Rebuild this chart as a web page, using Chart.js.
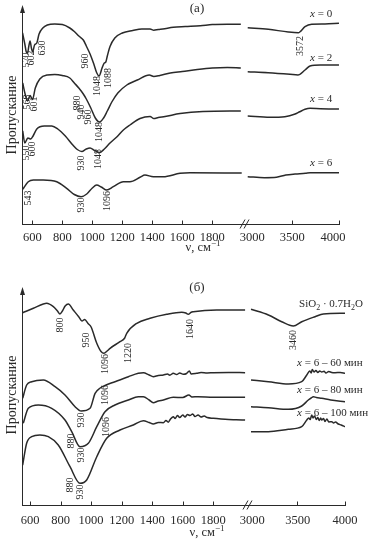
<!DOCTYPE html>
<html><head><meta charset="utf-8">
<script src="https://cdn.jsdelivr.net/npm/chart.js@4/dist/chart.umd.min.js"></script>
<style>
html,body{margin:0;padding:0;background:#fff;}
#wrap{position:relative;width:378px;height:544px;overflow:hidden;}
canvas{position:absolute;left:0;}
#ca{top:0;width:378px;height:262px;}
#cb{top:262px;width:378px;height:282px;}
</style></head><body>
<div id="wrap"><canvas id="ca" width="378" height="262"></canvas><canvas id="cb" width="378" height="282"></canvas></div>
<script>
// ---------- tick labels (wavenumber, cm^-1) ----------
const TICK_VALUES = [600, 800, 1000, 1200, 1400, 1600, 1800, 3000, 3500, 4000];
const TICK_LABELS = ['600', '800', '1000', '1200', '1400', '1600', '1800', '3000', '3500', '4000'];

// ---------- panel (а): [wavenumber, transmittance a.u.] ----------
const A_SERIES = ['x = 0', 'x = 2', 'x = 4', 'x = 6'];
const A_X0_LOW = [[535,191],[550,180],[560,172],[568,171],[577,178],[585,183],[594,176],[602,172],[615,179],[630,181],[645,190],[670,196],[700,199],[750,200],[800,199.5],[850,196],[880,192.5],[910,188],[940,184],[960,178],[985,170],[1010,160],[1030,151],[1045,148],[1065,156],[1080,161],[1090,162],[1100,168],[1118,177.5],[1150,186],[1200,191],[1270,193.5],[1330,195],[1385,195],[1410,193.8],[1440,194.5],[1470,195],[1540,196.8],[1620,197.5],[1720,198.3],[1800,199.5],[1900,199.8],[1990,199.8]];
const A_X0_HIGH = [[3022,196.3],[3243,194.7],[3457,192],[3564,191.3],[3580,192],[3636,197.3],[3708,199.7],[3850,200],[4000,200.7]];
const A_X2_LOW = [[536,141],[552,130],[568,123],[585,128.5],[601,124.5],[620,136],[650,145],[700,149],[750,149.5],[800,148.5],[850,146],[880,141],[910,136],[940,130],[960,125],[990,116],[1020,106],[1048,102],[1075,106],[1100,113],[1130,122],[1170,131],[1230,139],[1300,144],[1380,149],[1410,147.5],[1450,148.5],[1520,151],[1600,152.5],[1700,154.5],[1800,156],[1900,156.5],[1990,156]];
const A_X2_HIGH = [[3022,152.3],[3240,151.3],[3475,149.7],[3560,149],[3636,154],[3690,158],[3800,159],[4000,159]];
const A_X4_LOW = [[536,93],[550,81],[570,86],[590,85],[605,88],[630,95],[680,98],[730,98],[770,95],[820,88],[870,79],[900,74.5],[930,72.5],[960,75],[985,76],[1015,73.5],[1048,71.5],[1080,75],[1118,81],[1163,87],[1207,94],[1251,99],[1318,105.5],[1385,107.5],[1410,105.5],[1440,106.5],[1485,107.5],[1585,110.5],[1738,112.5],[1990,113]];
const A_X4_HIGH = [[3022,108],[3260,106.7],[3420,107.3],[3530,110],[3580,112.3],[3636,114.7],[3690,115.7],[3800,115.3],[4000,115]];
const A_X6_LOW = [[536,34.7],[573,42.3],[607,44],[673,44],[763,42.3],[829,35.7],[880,29.5],[925,27.3],[963,30],[1000,36],[1029,39],[1060,37],[1096,34],[1140,37.3],[1207,42.3],[1251,42.3],[1318,46.7],[1351,49],[1407,47.3],[1473,47.3],[1585,50.7],[1651,51.3],[1996,51]];
const A_X6_HIGH = [[3022,47.3],[3200,46.3],[3330,46.7],[3430,49],[3530,50],[3640,50.7],[3690,51.3],[4000,51.3]];
const A_PEAKS = [['570',561,164],['602',591,166],['630',667,176],['960',956,163],['1048',1031,138],['1088',1109,146],['3572',3583,178],
  ['568',568,122],['601',611,120],['880',903,121],['940',929,112],['960',973,107],['1048',1045,92],
  ['550',558,71],['600',598,75],['930',929,61],['1048',1040,65],
  ['543',576,26],['930',925,19],['1096',1103,23]];

// ---------- panel (б) ----------
const B_SERIES = ['SiO2 · 0.7H2O', 'x = 6 – 60 мин', 'x = 6 – 80 мин', 'x = 6 – 100 мин'];
const B_SIO2_LOW = [[552,192.3],[622,196.7],[687,201],[709,201.7],[753,198.3],[780,194],[796,191],[812,194],[830,199],[851,201],[883,195],[920,188],[940,184],[958,185.5],[980,181.5],[1000,178],[1037,161.7],[1065,153.5],[1084,151.7],[1105,154],[1124,156.7],[1189,163.3],[1220,167],[1233,171.7],[1299,181.7],[1386,186.7],[1495,190.7],[1593,192.7],[1620,192],[1636,190.7],[1655,192.8],[1669,193.3],[1822,195],[2008,195]];
const B_SIO2_HIGH = [[3014,195.7],[3196,190],[3336,183.3],[3458,179],[3546,183.3],[3686,188.3],[3773,191],[4000,191.7]];
const B_60_LOW = [[552,106.7],[578,120],[611,123.3],[687,125],[764,118.3],[829,110],[895,98.3],[935,94],[993,96.7],[1026,111.7],[1060,117],[1091,119.5],[1156,123.3],[1244,128.3],[1309,131.7],[1342,132.3],[1380,130],[1407,128.3],[1440,129.5],[1473,130],[1500,131],[1515,129.8],[1538,131.7],[1560,130.5],[1580,132],[1604,130.7],[1625,131.5],[1643,134],[1655,131],[1691,131.7],[1720,132.5],[1760,132],[1800,132.3],[1900,132.5],[2008,132.3]];
const B_60_HIGH = [[3014,125],[3196,123.3],[3406,121],[3546,123.3],[3599,130],[3630,134],[3645,132],[3657,135.5],[3675,133],[3695,134.5],[3715,132.5],[3735,134],[3756,133],[3780,133.8],[3800,132],[3830,133.5],[3860,132.5],[3896,132.3],[3950,132.5],[4000,131.7]];
const B_80_LOW = [[556,81.7],[589,96.7],[654,100],[742,96.7],[829,85],[873,73.3],[927,58.3],[982,61.7],[1037,78.3],[1091,93.3],[1156,100],[1244,105],[1309,108.3],[1342,108.3],[1380,105],[1407,102.3],[1440,104],[1473,105],[1538,107.7],[1600,107.5],[1640,110],[1660,108],[1700,108.3],[1800,107.7],[2008,107.7]];
const B_80_HIGH = [[3014,98.3],[3196,97.3],[3406,95.7],[3546,99],[3615,105],[3645,107],[3668,108.3],[3700,107.5],[3756,106.7],[3850,105],[4000,103.3]];
const B_100_LOW = [[552,40],[578,61.7],[611,68.3],[665,70],[720,68.3],[785,60],[862,38.3],[927,21.7],[971,25],[1037,48.3],[1102,66.7],[1189,75],[1276,80],[1342,84.3],[1380,82.5],[1407,81],[1440,82.5],[1473,82.3],[1490,84.5],[1505,82.8],[1520,86],[1538,88.3],[1550,86.5],[1565,89.5],[1580,87.5],[1600,90],[1615,88],[1630,90.5],[1647,89.5],[1665,91],[1680,88.5],[1700,90],[1720,88],[1740,89],[1760,87.5],[1800,86.7],[1850,86],[1900,85.5],[1950,85.3],[2008,85]];
const B_100_HIGH = [[3014,73.3],[3196,73.3],[3406,75.7],[3546,78.3],[3599,85],[3620,87],[3635,85.5],[3651,90],[3665,87],[3680,89],[3700,85.5],[3715,87.5],[3730,84.5],[3745,87],[3756,85],[3775,86.5],[3790,83.5],[3810,86],[3830,83],[3861,83.3],[3880,82],[3900,83],[3930,81],[3960,80],[4000,78.3]];
const B_PEAKS = [['800',801,180],['950',967,165],['1096',1091,141],['1220',1244,152],['1640',1647,176],['3460',3458,165],
  ['1096',1094,110],['930',934,85],['1096',1098,78],['880',868,64],['930',934,50],['880',862,20],['930',931,13]];

// ---------- layout / style (not data) ----------
const INK = '#2a2a2a';
const SERIF = '"Liberation Serif", "Times New Roman", serif';
const PANEL_A = {
  umin: 531.3, umax: 2644.5, uR: 2333.3, r: 0.622, breakU: 2018, ymax: 219, pxPerU: 0.15,
  padding: {left: 22, right: 39, top: 5, bottom: 0}, tickPad: 6, axisH: 38,
  labelShift: {3000: 6.6, 4000: -6},
  title: {text: '(а)', x: 197, y: 8.5}, ylab: {x: 12, y: 115}, xtitle: {x: 203, y: 251},
  names: A_SERIES, namePos: [[3690,210.7],[3690,167.3],[3690,126.3],[3690,62.3]], peaks: A_PEAKS
};
const PANEL_B = {
  umin: 547.6, umax: 2662, uR: 2350, r: 0.624, breakU: 2027, ymax: 218, pxPerU: 0.15276,
  padding: {left: 22, right: 33, top: 25, bottom: 0}, tickPad: 8, axisH: 39,
  labelShift: {3000: 2.6, 3500: 0.4, 4000: 0},
  title: {text: '(б)', x: 197, y: 26}, ylab: {x: 12, y: 133}, xtitle: {x: 207, y: 274},
  names: B_SERIES, namePos: [[3518,201.7],[3497,143],[3497,116],[3497,93]], peaks: B_PEAKS
};

function toU(P, v) { return v < 2500 ? v : P.uR + (v - 3500) * P.r; }
function buildData(P, low, high) {
  const pts = low.map(([v, t]) => ({x: toU(P, v), y: t}));
  pts.push({x: P.breakU, y: null});
  high.forEach(([v, t]) => pts.push({x: toU(P, v), y: t}));
  return pts;
}
function richName(name) {
  if (name.startsWith('x')) return [{t: 'x', it: true}, {t: name.slice(1)}];
  const segs = [];
  for (let i = 0; i < name.length; i++) {
    const c = name[i];
    const sub = /\d/.test(c) && /[A-Za-z]/.test(name[i - 1] || '');
    const last = segs[segs.length - 1];
    if (last && !!last.sub === sub) last.t += c; else segs.push({t: c, sub});
  }
  return segs;
}
function drawRich(ctx, segs, x, y, size, align) {
  const font = s => `${s.it ? 'italic ' : ''}${(s.sub || s.sup) ? Math.round(size * 0.72) : size}px ${SERIF}`;
  let w = 0;
  segs.forEach(s => { ctx.font = font(s); s.w = ctx.measureText(s.t).width; w += s.w; });
  let cx = align === 'center' ? x - w / 2 : x;
  ctx.textAlign = 'left'; ctx.textBaseline = 'alphabetic';
  segs.forEach(s => {
    ctx.font = font(s);
    const dy = s.sub ? size * 0.25 : s.sup ? -size * 0.42 : 0;
    ctx.fillText(s.t, cx, y + dy); cx += s.w;
  });
}

const overlay = {
  id: 'overlay',
  afterDraw(chart) {
    const P = chart.options.plugins.overlay.panel;
    const ctx = chart.ctx, ca = chart.chartArea;
    const xs = chart.scales.x, ys = chart.scales.y;
    const X = v => xs.getPixelForValue(toU(P, v));
    const Y = t => ys.getPixelForValue(t);
    ctx.save();
    ctx.strokeStyle = INK; ctx.fillStyle = INK; ctx.lineWidth = 1;
    const L = Math.round(ca.left) + 0.5, B = Math.round(ca.bottom) + 0.5;
    // y axis with arrow
    ctx.beginPath(); ctx.moveTo(L, B); ctx.lineTo(L, ca.top + 4); ctx.stroke();
    ctx.beginPath(); ctx.moveTo(L, ca.top); ctx.lineTo(L - 2.5, ca.top + 8); ctx.lineTo(L + 2.5, ca.top + 8); ctx.closePath(); ctx.fill();
    // inward tick marks
    TICK_VALUES.forEach(v => {
      if (v === 3000) return;
      const px = Math.round(X(v)) + 0.5;
      ctx.beginPath(); ctx.moveTo(px, B); ctx.lineTo(px, B - 4); ctx.stroke();
    });
    // axis break
    const bx = xs.getPixelForValue(P.breakU);
    ctx.beginPath();
    ctx.moveTo(bx - 5, B + 4); ctx.lineTo(bx, B - 5);
    ctx.moveTo(bx - 1, B + 4); ctx.lineTo(bx + 4, B - 5);
    ctx.stroke();
    // peak labels (rotated)
    ctx.font = `10px ${SERIF}`; ctx.textAlign = 'center'; ctx.textBaseline = 'middle';
    P.peaks.forEach(([t, v, y]) => {
      ctx.save(); ctx.translate(X(v), Y(y)); ctx.rotate(-Math.PI / 2); ctx.fillText(t, 0, 0); ctx.restore();
    });
    // series names
    P.names.forEach((n, i) => {
      const [v, y] = P.namePos[i];
      drawRich(ctx, richName(n), X(v), Y(y) + 3.8, 11, 'left');
    });
    // panel title
    ctx.font = `13px ${SERIF}`; ctx.textAlign = 'center'; ctx.textBaseline = 'middle';
    ctx.fillText(P.title.text, P.title.x, P.title.y);
    // y label
    ctx.save(); ctx.translate(P.ylab.x, P.ylab.y); ctx.rotate(-Math.PI / 2);
    ctx.font = `14px ${SERIF}`; ctx.textAlign = 'center'; ctx.textBaseline = 'middle';
    ctx.fillText('Пропускание', 0, 0); ctx.restore();
    // x title
    drawRich(ctx, [{t: 'ν, см'}, {t: '−1', sup: true}], P.xtitle.x, P.xtitle.y, 12.5, 'center');
    ctx.restore();
  }
};

function makeChart(id, P, series) {
  const labelTicks = TICK_VALUES.map(v => toU(P, v) + (P.labelShift[v] || 0) / P.pxPerU);
  return new Chart(document.getElementById(id), {
    type: 'line',
    data: {
      datasets: series.map(([name, low, high]) => ({
        label: name, data: buildData(P, low, high),
        borderColor: INK, borderWidth: 1.5, pointRadius: 0, fill: false,
        cubicInterpolationMode: 'monotone', spanGaps: false
      }))
    },
    options: {
      responsive: false, animation: false, devicePixelRatio: 1,
      layout: {padding: P.padding},
      plugins: {legend: {display: false}, tooltip: {enabled: false}, overlay: {panel: P}},
      scales: {
        x: {
          type: 'linear', min: P.umin, max: P.umax,
          grid: {display: false, drawTicks: false},
          border: {display: true, color: INK, width: 1},
          ticks: {autoSkip: false, maxRotation: 0, minRotation: 0, padding: P.tickPad, color: INK,
            font: {family: SERIF, size: 12.5}, callback: (val, i) => TICK_LABELS[i]},
          afterBuildTicks: s => { s.ticks = labelTicks.map(u => ({value: u})); },
          afterFit: s => { s.height = P.axisH; }
        },
        y: {display: false, min: 0, max: P.ymax}
      }
    },
    plugins: [overlay]
  });
}

makeChart('ca', PANEL_A, [
  [A_SERIES[0], A_X0_LOW, A_X0_HIGH], [A_SERIES[1], A_X2_LOW, A_X2_HIGH],
  [A_SERIES[2], A_X4_LOW, A_X4_HIGH], [A_SERIES[3], A_X6_LOW, A_X6_HIGH]
]);
makeChart('cb', PANEL_B, [
  [B_SERIES[0], B_SIO2_LOW, B_SIO2_HIGH], [B_SERIES[1], B_60_LOW, B_60_HIGH],
  [B_SERIES[2], B_80_LOW, B_80_HIGH], [B_SERIES[3], B_100_LOW, B_100_HIGH]
]);
</script></body></html>
